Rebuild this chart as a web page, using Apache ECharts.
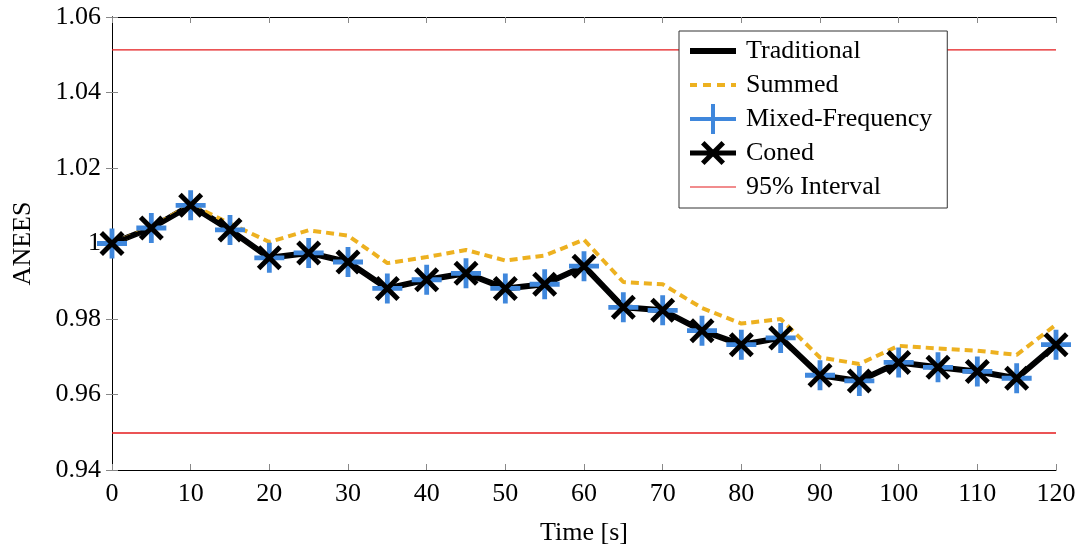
<!DOCTYPE html>
<html>
<head>
<meta charset="utf-8">
<script src="https://cdn.jsdelivr.net/npm/echarts@6/dist/echarts.min.js"></script>
<style>html,body{margin:0;padding:0;background:#fff}#c{width:1083px;height:546px}</style>
</head>
<body>
<div id="c"></div>
<script>
var times = [0,5,10,15,20,25,30,35,40,45,50,55,60,65,70,75,80,85,90,95,100,105,110,115,120];
var traditional = [1.0000,1.0041,1.0101,1.0036,0.9962,0.9975,0.9951,0.9881,0.9904,0.9921,0.9881,0.9892,0.9940,0.9831,0.9823,0.9769,0.9732,0.9750,0.9651,0.9636,0.9685,0.9672,0.9661,0.9643,0.9732];
var summed = [1.0000,1.0043,1.0104,1.0053,1.0004,1.0035,1.0021,0.9948,0.9964,0.9983,0.9955,0.9968,1.0010,0.9898,0.9892,0.9829,0.9788,0.9800,0.9698,0.9681,0.9729,0.9722,0.9716,0.9705,0.9785];
var mixedFrequency = [1.0000,1.0041,1.0101,1.0036,0.9962,0.9975,0.9951,0.9881,0.9904,0.9921,0.9881,0.9892,0.9940,0.9831,0.9823,0.9769,0.9732,0.9750,0.9651,0.9636,0.9685,0.9672,0.9661,0.9643,0.9732];
var coned = [1.0000,1.0041,1.0101,1.0036,0.9962,0.9975,0.9951,0.9881,0.9904,0.9921,0.9881,0.9892,0.9940,0.9831,0.9823,0.9769,0.9732,0.9750,0.9651,0.9636,0.9685,0.9672,0.9661,0.9643,0.9732];
var intervalBounds = [0.9498, 1.0513];
var xRange = [0, 120];

function pairs(v){ return times.map(function(t,i){ return [t, v[i]]; }); }

var FONT = '"Liberation Serif", "DejaVu Serif", serif';
var plusPath = 'path://M42,0 H58 V42 H100 V58 H58 V100 H42 V58 H0 V42 H42 Z';
var crossPath = 'path://M0,14 L14,0 L100,86 L86,100 Z M86,0 L100,14 L14,100 L0,86 Z';

// legend icons in a 51x30 box (corner dots fix the box)
var corners = 'M0,0 h0.01 v0.01 h-0.01 Z M51,30 h-0.01 v-0.01 h0.01 Z ';
var iconTrad = 'path://' + corners + 'M0,12 H46 V18 H0 Z';
var iconSum = 'path://' + corners + 'M0,13 H7 V17 H0 Z M13,13 H21 V17 H13 Z M27,13 H35 V17 H27 Z M41,13 H46 V17 H41 Z';
var iconMixed = 'path://' + corners + 'M0,13 H46 V17 H0 Z M21,0 H25 V30 H21 Z';
var iconConed = 'path://' + corners + 'M0,12.5 H46 V17.5 H0 Z M11,6.5 L14.5,3 L35,23.5 L31.5,27 Z M31.5,3 L35,6.5 L14.5,27 L11,23.5 Z';
var iconInt = 'path://' + corners + 'M0,14.4 H46 V15.6 H0 Z';

var RED = '#e41a1c';
var chart = echarts.init(document.getElementById('c'), null, {renderer:'canvas'});
var axisCommon = {
  axisLine:{show:true, lineStyle:{color:'#000', width:1}},
  axisTick:{show:true, inside:true, length:6, lineStyle:{color:'#888', width:1}},
  splitLine:{show:false}
};
chart.setOption({
  animation:false,
  backgroundColor:'#fff',
  grid:{left:112, right:27, top:17, bottom:76, show:false, containLabel:false, outerBoundsMode:'none'},
  legend:{
    left:679, top:31, orient:'vertical',
    backgroundColor:'#fff', borderColor:'#333', borderWidth:1, borderRadius:0,
    padding:[5,15,6,11], itemGap:4, itemWidth:51, itemHeight:30,
    textStyle:{fontFamily:FONT, fontSize:26, lineHeight:30, color:'#000'},
    data:[
      {name:'Traditional', icon:iconTrad},
      {name:'Summed', icon:iconSum},
      {name:'Mixed-Frequency', icon:iconMixed},
      {name:'Coned', icon:iconConed},
      {name:'95% Interval', icon:iconInt}
    ]
  },
  xAxis:[
    Object.assign({type:'value', min:0, max:120, interval:10, position:'bottom',
      name:'Time [s]', nameLocation:'middle', nameGap:50,
      nameTextStyle:{fontFamily:FONT, fontSize:26, color:'#000'},
      axisLabel:{fontFamily:FONT, fontSize:26, color:'#000', margin:11}}, axisCommon),
    Object.assign({type:'value', min:0, max:120, interval:10, position:'top',
      axisLabel:{show:false}}, axisCommon)
  ],
  yAxis:[
    Object.assign({type:'value', min:0.94, max:1.06, interval:0.02, position:'left',
      name:'ANEES', nameLocation:'middle', nameGap:76,
      nameTextStyle:{fontFamily:FONT, fontSize:26, color:'#000'},
      axisLabel:{fontFamily:FONT, fontSize:26, color:'#000', margin:11,
        formatter:function(v){ return String(parseFloat(v.toFixed(2))); }}}, axisCommon),
    Object.assign({type:'value', min:0.94, max:1.06, interval:0.02, position:'right',
      axisLabel:{show:false}}, axisCommon)
  ],
  series:[
    {name:'95% Interval', type:'line', data:[[xRange[0], intervalBounds[0]],[xRange[1], intervalBounds[0]]], symbol:'none',
      lineStyle:{color:RED, width:1.3}, itemStyle:{color:RED}},
    {name:'95% Interval', type:'line', data:[[xRange[0], intervalBounds[1]],[xRange[1], intervalBounds[1]]], symbol:'none',
      lineStyle:{color:RED, width:1.3}, itemStyle:{color:RED}},
    {name:'Traditional', type:'line', data:pairs(traditional), symbol:'none',
      lineStyle:{color:'#000', width:6}, itemStyle:{color:'#000'}},
    {name:'Summed', type:'line', data:pairs(summed), symbol:'none',
      lineStyle:{color:'#edb120', width:4, type:[8,5]}, itemStyle:{color:'#edb120'}},
    {name:'Mixed-Frequency', type:'line', data:pairs(mixedFrequency),
      symbol:plusPath, symbolSize:30, showAllSymbol:true,
      lineStyle:{color:'#3f87dc', width:3}, itemStyle:{color:'#3f87dc'}},
    {name:'Coned', type:'line', data:pairs(coned),
      symbol:crossPath, symbolSize:25, showAllSymbol:true,
      lineStyle:{color:'#000', width:4}, itemStyle:{color:'#000'}}
  ]
});
</script>
</body>
</html>
